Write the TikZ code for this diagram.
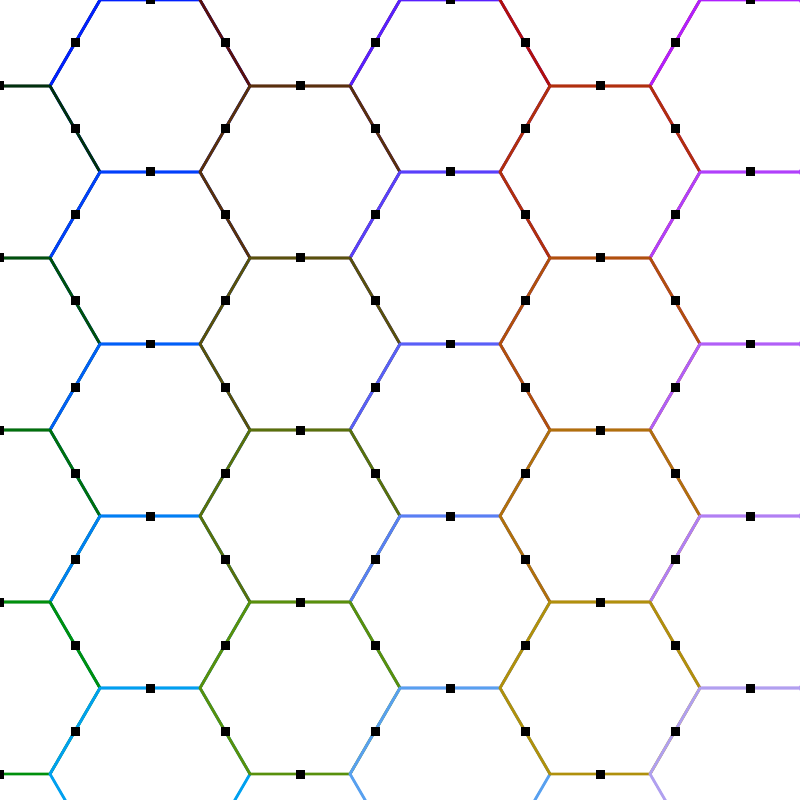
\documentclass[tikz,border=0pt]{standalone}
\usepackage{tikz}
\tikzset{
  hexedge/.style={line width=0.8pt, line join=miter},
  marker/.style={fill=black}
}
\begin{document}
\begin{tikzpicture}[x=1cm,y=-1cm]
\useasboundingbox (0,0) rectangle (8,8);
\clip (0,0) rectangle (8,8);
% hexagons, drawn row by row (later ones overwrite shared edges)
\foreach \j in {0,...,4}{
  \foreach \i in {0,...,5}{
    \pgfmathtruncatemacro{\odd}{mod(\i,2)}
    \pgfmathsetmacro{\cx}{1.5*\i}
    \pgfmathsetmacro{\row}{\j+0.5*\odd}
    \pgfmathsetmacro{\cy}{1.72*\row}
    \pgfmathtruncatemacro{\G}{16+32*\row}
    \pgfmathtruncatemacro{\R}{88*floor(\i/2)}
    \pgfmathtruncatemacro{\B}{\odd==1 ? 255-4*\j : 12}
    \definecolor{hc}{RGB}{\R,\G,\B}
    \draw[hexedge, hc, shift={(\cx,\cy)}]
      (1,0) -- (0.5,0.86) -- (-0.5,0.86) -- (-1,0) -- (-0.5,-0.86) -- (0.5,-0.86) -- cycle;
  }
}
% markers at edge midpoints
\foreach \j in {0,...,4}{
  \foreach \i in {0,...,5}{
    \pgfmathtruncatemacro{\odd}{mod(\i,2)}
    \pgfmathsetmacro{\cx}{1.5*\i}
    \pgfmathsetmacro{\cy}{1.72*(\j+0.5*\odd)}
    \foreach \mx/\my in {0/0.86, 0/-0.86, 0.75/0.43, 0.75/-0.43, -0.75/0.43, -0.75/-0.43}{
      \fill[marker, shift={(\cx,\cy)}] (\mx-0.045,\my-0.045) rectangle ++(0.09,0.09);
    }
  }
}
\end{tikzpicture}
\end{document}
